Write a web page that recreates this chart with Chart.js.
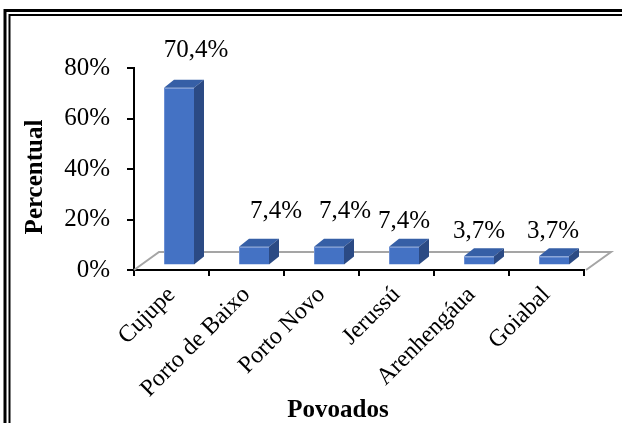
<!DOCTYPE html>
<html>
<head>
<meta charset="utf-8">
<script src="https://cdn.jsdelivr.net/npm/chart.js@4.4.1/dist/chart.umd.min.js"></script>
<style>
  html, body { margin: 0; padding: 0; background: #fff; }
  #contenedor { position: relative; width: 622px; height: 423px; }
</style>
</head>
<body>
<div id="contenedor"><canvas id="grafico"></canvas></div>
<script>
// datos del grafico
const povoados = ['Cujupe', 'Porto de Baixo', 'Porto Novo', 'Jerussú', 'Arenhengáua', 'Goiabal'];
const percentual = [70.4, 7.4, 7.4, 7.4, 3.7, 3.7];
const ticksY = [0, 20, 40, 60, 80];

const fuente = '"Liberation Serif", "Times New Roman", serif';

// desplazamiento de las etiquetas de valor (centro / linea base) respecto a la barra
const etiquetaDx = [17, 22, 16, 0, 0, -1];
const etiquetaDy = [-31, -29, -29, -19, -18, -18];

// efecto 3D: profundidad de la barra, del piso y corrimiento de las barras
const prof = { dx: 10, dy: -8 };
const piso = { dx: 25, dy: -18 };
const corrimiento = { x: 7.5, y: -4.5 };

const padIzq = 12, ejeX = 270, ejeY = 134;

const formato = v => v.toFixed(1).replace('.', ',') + '%';

const efecto3D = {
    id: 'efecto3D',
    beforeDatasetsDraw(chart) {
        let { ctx, chartArea, scales } = chart,
            y0 = scales.y.getPixelForValue(0);
        // piso en perspectiva
        ctx.save();
        ctx.strokeStyle = '#a5a5a5';
        ctx.lineWidth = 2;
        ctx.beginPath();
        ctx.moveTo(chartArea.left, y0);
        ctx.lineTo(chartArea.left + piso.dx, y0 + piso.dy);
        ctx.lineTo(chartArea.right + 2 + piso.dx, y0 + piso.dy);
        ctx.lineTo(chartArea.right + 2, y0);
        ctx.stroke();
        ctx.restore();

        ctx.save();
        ctx.translate(corrimiento.x, corrimiento.y);
    },
    afterDatasetsDraw(chart) {
        let ctx = chart.ctx;
        chart.getDatasetMeta(0).data.forEach(bar => {
            const { x, y, base, width } = bar.getProps(['x', 'y', 'base', 'width'], true);
            let l = x - width / 2,
                r = x + width / 2;
            // cara de arriba
            ctx.fillStyle = '#365fa6';
            ctx.beginPath();
            ctx.moveTo(l, y);
            ctx.lineTo(l + prof.dx, y + prof.dy);
            ctx.lineTo(r + prof.dx, y + prof.dy);
            ctx.lineTo(r, y);
            ctx.closePath();
            ctx.fill();
            // cara lateral
            ctx.fillStyle = '#2b4a84';
            ctx.beginPath();
            ctx.moveTo(r, y);
            ctx.lineTo(r + prof.dx, y + prof.dy);
            ctx.lineTo(r + prof.dx, base + prof.dy);
            ctx.lineTo(r, base);
            ctx.closePath();
            ctx.fill();
        });
        ctx.restore();
    },
    afterDraw(chart) {
        let ctx = chart.ctx;
        ctx.save();
        ctx.fillStyle = '#000';

        // etiquetas de valor
        ctx.font = '25px ' + fuente;
        ctx.textAlign = 'center';
        ctx.textBaseline = 'alphabetic';
        chart.getDatasetMeta(0).data.forEach((bar, i) => {
            ctx.fillText(formato(percentual[i]),
                bar.x + corrimiento.x + etiquetaDx[i],
                bar.y + corrimiento.y + etiquetaDy[i]);
        });

        // titulos de los ejes
        ctx.font = 'bold 25px ' + fuente;
        ctx.fillText('Povoados', 338, 417);
        ctx.save();
        ctx.translate(42, 177);
        ctx.rotate(-Math.PI / 2);
        ctx.fillText('Percentual', 0, 0);
        ctx.restore();

        // marco doble
        ctx.strokeStyle = '#000';
        ctx.lineWidth = 3;
        ctx.beginPath();
        ctx.moveTo(5, 440);
        ctx.lineTo(5, 10.5);
        ctx.lineTo(640, 10.5);
        ctx.stroke();
        ctx.lineWidth = 2;
        ctx.beginPath();
        ctx.moveTo(9.5, 440);
        ctx.lineTo(9.5, 15);
        ctx.lineTo(640, 15);
        ctx.stroke();
        ctx.restore();
    }
};

new Chart(document.getElementById('grafico').getContext('2d'), {
    type: 'bar',
    data: {
        labels: povoados,
        datasets: [{
            label: 'Percentual',
            data: percentual,
            backgroundColor: '#4472c4',
            borderColor: '#6b8fd4',
            borderWidth: { left: 1, top: 1, right: 0, bottom: 0 },
            barPercentage: 0.8,
            categoryPercentage: 0.5
        }]
    },
    options: {
        responsive: true,
        maintainAspectRatio: false,
        animation: false,
        layout: { padding: { left: padIzq, top: 68, right: 38, bottom: 0 } },
        plugins: {
            legend: { display: false },
            tooltip: { enabled: false }
        },
        scales: {
            x: {
                grid: { drawOnChartArea: false, drawTicks: true, tickLength: 6, color: '#000', lineWidth: 2 },
                border: { color: '#000', width: 2 },
                ticks: {
                    font: { family: fuente, size: 24 },
                    color: '#000',
                    minRotation: 45,
                    maxRotation: 45,
                    autoSkip: false,
                    padding: 5
                },
                afterFit: s => { s.height = 423 - ejeX; }
            },
            y: {
                min: ticksY[0],
                max: ticksY[ticksY.length - 1],
                grid: { drawOnChartArea: false, drawTicks: true, tickLength: 7, color: '#000', lineWidth: 2 },
                border: { color: '#000', width: 2 },
                ticks: {
                    stepSize: 20,
                    font: { family: fuente, size: 25 },
                    color: '#000',
                    padding: 17,
                    callback: v => v + '%'
                },
                afterFit: s => { s.width = ejeY - padIzq; }
            }
        }
    },
    plugins: [efecto3D]
});
</script>
</body>
</html>
